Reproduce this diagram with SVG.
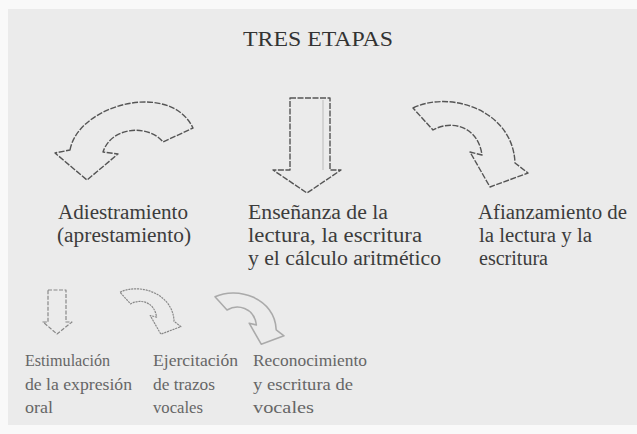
<svg xmlns="http://www.w3.org/2000/svg" width="637" height="434" viewBox="0 0 637 434">
<style>
.big{fill:none;stroke:#555;stroke-width:1.4;stroke-dasharray:6 1.5;stroke-linejoin:round}
.sm{fill:none;stroke:#888;stroke-width:1.2;stroke-dasharray:4 1.5;stroke-linejoin:round}
.sm2{fill:none;stroke:#aaa;stroke-width:1.6;stroke-linejoin:round}
.t{font-family:"Liberation Serif","Times New Roman",serif;fill:#3c3c3c}
.title{font-size:21px;fill:#333}
.lbl{font-size:20px}
.lbs{font-size:16px;fill:#666}
</style>
<defs>
<path id="curv" d="M0,8 C37,-10 100,10 102,63 L115,73 L77,87 L57,52 L69,55 C65,25 37,20 20,30 Z"/>
</defs>
<rect x="0" y="0" width="637" height="434" fill="#f9f9f9"/>
<rect x="8" y="9" width="629" height="416" fill="#ebebeb"/>
<g id="title">
<text class="t title" x="243" y="46" textLength="150" lengthAdjust="spacingAndGlyphs">TRES ETAPAS</text>
</g>
<g id="adiestramiento">
<path class="big" d="M70,150 C78,105 170,80 193,128 L163,142 C150,125 112,125 103,152 L118,154 L87,180 L55,153 Z"/>
<text class="t lbl" x="58" y="219" textLength="130" lengthAdjust="spacingAndGlyphs">Adiestramiento</text>
<text class="t lbl" x="57" y="242" textLength="134" lengthAdjust="spacingAndGlyphs">(aprestamiento)</text>
</g>
<g id="ensenanza">
<path class="big" d="M290,98 L330,98 L330,170 L341,170 L307,193 L273,170 L290,170 Z"/>
<line x1="323" y1="100" x2="323" y2="170" stroke="#bbb" stroke-width="1"/>
<text class="t lbl" x="248" y="219" textLength="140" lengthAdjust="spacingAndGlyphs">Enseñanza de la</text>
<text class="t lbl" x="248" y="242" textLength="174" lengthAdjust="spacingAndGlyphs">lectura, la escritura</text>
<text class="t lbl" x="248" y="265" textLength="193" lengthAdjust="spacingAndGlyphs">y el cálculo aritmético</text>
</g>
<g id="afianzamiento">
<use href="#curv" class="big" transform="translate(413,100)"/>
<text class="t lbl" x="478" y="219" textLength="149" lengthAdjust="spacingAndGlyphs">Afianzamiento de</text>
<text class="t lbl" x="479" y="242" textLength="113" lengthAdjust="spacingAndGlyphs">la lectura y la</text>
<text class="t lbl" x="479" y="265" textLength="69" lengthAdjust="spacingAndGlyphs">escritura</text>
</g>
<g id="estimulacion">
<path class="sm" d="M48,290 L66,290 L66,322 L72,322 L57,334 L43,322 L48,322 Z"/>
<text class="t lbs" x="25" y="366" textLength="85" lengthAdjust="spacingAndGlyphs">Estimulación</text>
<text class="t lbs" x="25" y="390" textLength="107" lengthAdjust="spacingAndGlyphs">de la expresión</text>
<text class="t lbs" x="25" y="413" textLength="28" lengthAdjust="spacingAndGlyphs">oral</text>
</g>
<g id="ejercitacion">
<use href="#curv" class="sm" transform="translate(120,288) scale(0.53)" style="stroke-width:2.2"/>
<text class="t lbs" x="153" y="366" textLength="85" lengthAdjust="spacingAndGlyphs">Ejercitación</text>
<text class="t lbs" x="153" y="390" textLength="62" lengthAdjust="spacingAndGlyphs">de trazos</text>
<text class="t lbs" x="153" y="413" textLength="50" lengthAdjust="spacingAndGlyphs">vocales</text>
</g>
<g id="reconocimiento">
<use href="#curv" class="sm2" transform="translate(215,292) scale(0.6)" style="stroke-width:2.6"/>
<text class="t lbs" x="253" y="366" textLength="114" lengthAdjust="spacingAndGlyphs">Reconocimiento</text>
<text class="t lbs" x="253" y="390" textLength="100" lengthAdjust="spacingAndGlyphs">y escritura de</text>
<text class="t lbs" x="253" y="413" textLength="61" lengthAdjust="spacingAndGlyphs">vocales</text>
</g>
</svg>
